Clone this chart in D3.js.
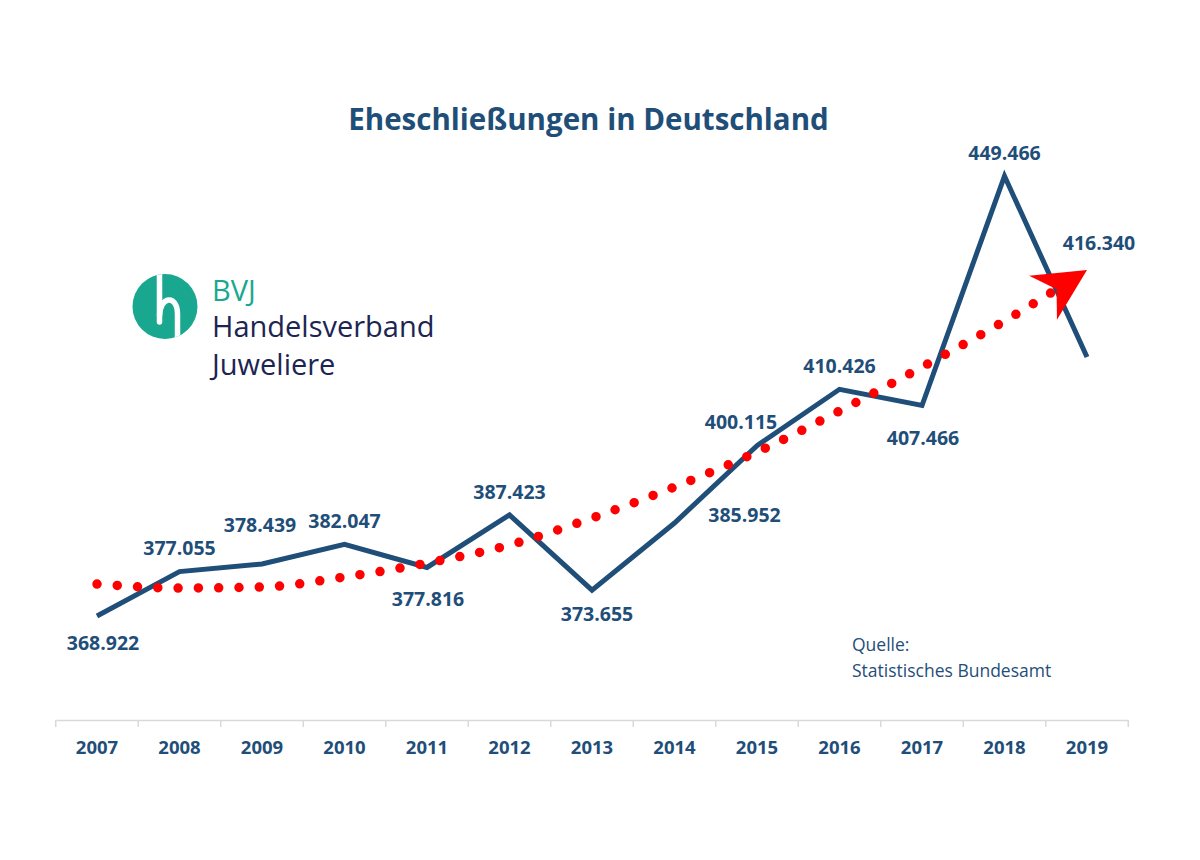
<!DOCTYPE html>
<html>
<head>
<meta charset="utf-8">
<script src="https://cdn.jsdelivr.net/npm/d3@7"></script>
<style>
  html, body { margin: 0; padding: 0; background: #ffffff; }
  svg { display: block; }
</style>
</head>
<body>
<svg id="chart" width="1200" height="860"></svg>
<script>
// ---- data ----
const years = ["2007","2008","2009","2010","2011","2012","2013","2014","2015","2016","2017","2018","2019"];
const marriages = [368922, 377055, 378439, 382047, 377816, 387423, 373655, 385952, 400115, 410426, 407466, 449466, 416340];
const valueLabels = ["368.922","377.055","378.439","382.047","377.816","387.423","373.655","385.952","400.115","410.426","407.466","449.466","416.340"];
// trend line values
const trend = [374780, 374050, 374230, 376060, 378620, 381920, 386860, 392540, 398940, 406450, 414500, 422920, 432260];
const titleText = "Eheschließungen in Deutschland";
const sourceLines = ["Quelle:", "Statistisches Bundesamt"];

// ---- layout (label placement offsets in px) ----
const labelOffsets = [[6,34],[0,-17],[-2,-32],[0,-16],[1,39],[0,-16],[5,31],[70,-1],[-16,-17],[0,-16],[1,40],[0,-16],[12,-107]];

const BLUE = "#1f4e79";
const RED = "#ff0000";
const TEAL = "#19a88f";
const NAVY = "#1c2552";
const FONT = "'Open Sans', 'Noto Sans', sans-serif";

const svg = d3.select("#chart");

const x = d3.scaleBand().domain(years).range([55.75, 1128.25]).padding(0);
const y = d3.scaleLinear().domain([350000, 460000]).range([719.4, 118.5]);
const cx = d => x(d) + x.bandwidth() / 2;

// ---- title ----
svg.append("text")
  .attr("x", 588.5).attr("y", 130)
  .attr("text-anchor", "middle")
  .attr("font-family", FONT).attr("font-weight", 700)
  .attr("font-size", 29.5).attr("fill", BLUE)
  .text(titleText);

// ---- x axis ----
const axisY = 720;
const axisG = svg.append("g").attr("transform", `translate(0,${axisY})`);
const ax = d3.axisBottom(x).tickSize(0).tickPadding(21);
axisG.call(ax);
axisG.select(".domain").attr("stroke", "#d9d9d9").attr("stroke-width", 1.5);
axisG.selectAll(".tick text")
  .attr("font-family", FONT).attr("font-weight", 700)
  .attr("font-size", 18.5).attr("fill", BLUE);
const boundaries = years.map(d => x(d)).concat([x(years[years.length - 1]) + x.bandwidth()]);
axisG.selectAll("line.bound").data(boundaries).enter().append("line")
  .attr("class", "bound")
  .attr("x1", d => d).attr("x2", d => d)
  .attr("y1", 0).attr("y2", 7)
  .attr("stroke", "#d9d9d9").attr("stroke-width", 1.5);

// ---- main line ----
const pts = years.map((d, i) => ({ year: d, v: marriages[i], label: valueLabels[i], off: labelOffsets[i] }));
const line = d3.line().x(d => cx(d.year)).y(d => y(d.v));
svg.append("path")
  .datum(pts)
  .attr("d", line)
  .attr("fill", "none")
  .attr("stroke", BLUE)
  .attr("stroke-width", 5)
  .attr("stroke-linejoin", "miter")
  .attr("stroke-miterlimit", 10);

// ---- trend (dotted, with arrow) ----
const tpts = years.map((d, i) => ({ year: d, v: trend[i] }));
const tline = d3.line().x(d => cx(d.year)).y(d => y(d.v)).curve(d3.curveMonotoneX);
const tpath = svg.append("path")
  .datum(tpts)
  .attr("d", tline)
  .attr("fill", "none")
  .attr("stroke", RED)
  .attr("stroke-width", 9.5)
  .attr("stroke-linecap", "round");
const L = tpath.node().getTotalLength();
const gap = 20.3;
const n = Math.floor((L - 34) / gap);
let dash = "";
for (let i = 0; i < n; i++) dash += "0 " + gap + " ";
dash += "0 " + (L + 50);
tpath.attr("stroke-dasharray", dash);

const pEnd = tpath.node().getPointAtLength(L);
const pPrev = tpath.node().getPointAtLength(L - 20);
const ang = Math.atan2(pEnd.y - pPrev.y, pEnd.x - pPrev.x) * 180 / Math.PI;
svg.append("path")
  .attr("d", "M0,0 L-52,-26 L-36,0 L-52,26 Z")
  .attr("fill", RED)
  .attr("transform", `translate(${pEnd.x},${pEnd.y}) rotate(${ang})`);

// ---- value labels ----
svg.selectAll("text.vl").data(pts).enter().append("text")
  .attr("class", "vl")
  .attr("x", d => cx(d.year) + d.off[0])
  .attr("y", d => y(d.v) + d.off[1])
  .attr("text-anchor", "middle")
  .attr("font-family", FONT).attr("font-weight", 700)
  .attr("font-size", 19.5).attr("fill", BLUE)
  .text(d => d.label);

// ---- source ----
svg.selectAll("text.src").data(sourceLines).enter().append("text")
  .attr("class", "src")
  .attr("x", 852).attr("y", (d, i) => 651 + i * 26)
  .attr("font-family", FONT).attr("font-size", 17.5).attr("fill", BLUE)
  .text(d => d);

// ---- logo ----
const logo = svg.append("g");
const defs = svg.append("defs");
defs.append("clipPath").attr("id", "logoClip")
  .append("circle").attr("cx", 165).attr("cy", 306.5).attr("r", 32.5);
logo.append("circle").attr("cx", 165).attr("cy", 306.5).attr("r", 32.5).attr("fill", TEAL);
const hg = logo.append("g").attr("clip-path", "url(#logoClip)");
hg.append("path")
  .attr("d", "M159.5,268 L159.5,322")
  .attr("stroke", "#fff").attr("stroke-width", 5.5).attr("stroke-linecap", "round").attr("fill", "none");
hg.append("path")
  .attr("d", "M159.5,316 C159.5,296 177.5,294 177.5,314 L177.5,345")
  .attr("stroke", "#fff").attr("stroke-width", 5.5).attr("fill", "none");
logo.append("text").attr("x", 212).attr("y", 301)
  .attr("font-family", FONT).attr("font-weight", 500).attr("font-size", 29).attr("fill", TEAL).text("BVJ");
logo.append("text").attr("x", 212).attr("y", 337)
  .attr("font-family", FONT).attr("font-weight", 500).attr("font-size", 29).attr("fill", NAVY).text("Handelsverband");
logo.append("text").attr("x", 212).attr("y", 375)
  .attr("font-family", FONT).attr("font-weight", 500).attr("font-size", 29).attr("fill", NAVY).text("Juweliere");
</script>
</body>
</html>
